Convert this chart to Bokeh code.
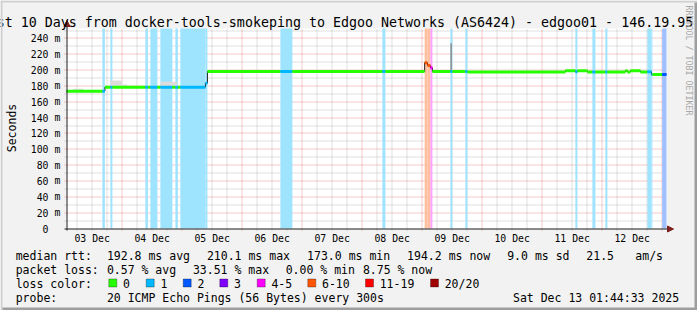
import math
from bokeh.plotting import figure
from bokeh.models import (Range1d, Label, LabelSet, BoxAnnotation,
                          Arrow, NormalHead, ColumnDataSource)
from bokeh.core.properties import value
from bokeh.embed import file_html
from bokeh.resources import INLINE

# ------------------------------------------------------------------ data
title_text = ("Last 10 Days from docker-tools-smokeping to Edgoo Networks "
              "(AS6424) - edgoo01 - 146.19.95.")
y_axis_title = "Seconds"
credit_text = "RRDTOOL / TOBI OETIKER"

# time axis: hours after 03 Dec 2025 00:00
range_start_h = 1.7425     # Dec 03 01:44:33
range_end_h = 241.7425     # Dec 13 01:44:33

day_labels = ["03 Dec", "04 Dec", "05 Dec", "06 Dec", "07 Dec",
              "08 Dec", "09 Dec", "10 Dec", "11 Dec", "12 Dec"]
day_label_h = [12, 36, 60, 84, 108, 132, 156, 180, 204, 228]
midnight_h = [24, 48, 72, 96, 120, 144, 168, 192, 216, 240]
six_hour_h = [h for h in range(6, 242, 6) if h % 24 != 0]

y_ticks = [0, 20, 40, 60, 80, 100, 120, 140, 160, 180, 200, 220, 240]
y_tick_numbers = ["0", "20", "40", "60", "80", "100", "120", "140",
                  "160", "180", "200", "220", "240"]
y_tick_units = ["", "m", "m", "m", "m", "m", "m", "m", "m", "m", "m", "m", "m"]
y_minor = [10, 30, 50, 70, 90, 110, 130, 150, 170, 190, 210, 230, 250]
y_top = 252.6

# median rtt (ms) per time segment, with lost pings (of 20) in that segment
seg_start_h = [1.74, 16.1, 17.1, 19.3, 20.1, 33.3, 34.3, 35.3, 38.1, 39.3, 44.1,
               45.3, 46.3, 47.3, 57.3, 58.1, 87.3, 92.1, 128.1, 129.3, 145.0,
               146.1, 147.3, 148.1, 155.3, 156.1, 161.3, 162.1, 201.3, 205.3,
               206.1, 210.1, 212.1, 213.3, 217.3, 218.1, 225.3, 226.1, 227.3,
               231.3, 234.1, 235.7, 236.1, 240.0]
seg_end_h = [16.1, 17.1, 19.3, 20.1, 33.3, 34.3, 35.3, 38.1, 39.3, 44.1, 45.3,
             46.3, 47.3, 57.3, 58.1, 87.3, 92.1, 128.1, 129.3, 145.0, 146.1,
             147.3, 148.1, 155.3, 156.1, 161.3, 162.1, 201.3, 205.3, 206.1,
             210.1, 212.1, 213.3, 217.3, 218.1, 225.3, 226.1, 227.3, 231.3,
             234.1, 235.7, 236.1, 240.0, 241.74]
seg_median_ms = [173.5, 173.5, 178.5, 178.5, 178.5, 178.5, 178.5, 178.5, 178.5,
                 178.5, 178.5, 178.5, 178.5, 178.5, 183.5, 198.3, 198.3, 198.3,
                 198.3, 198.3, 209.5, 206.0, 203.0, 198.3, 198.3, 198.3, 198.3,
                 197.8, 199.3, 198.0, 199.3, 197.8, 197.8, 197.8, 197.8, 197.8,
                 199.3, 197.8, 199.3, 197.8, 198.0, 194.5, 194.5, 194.5]
seg_loss = [0, 1, 0, 1, 0, 1, 0, 1, 0, 1, 0, 1, 0, 1, 1, 0, 1, 0, 1, 0, 8,
            8, 4, 0, 1, 0, 1, 0, 0, 1, 0, 0, 1, 0, 1, 0, 0, 0, 0, 0, 1, 1,
            0, 2]

# smoke (spread of the individual pings)
smoke_start_h = [4.5, 19.3, 24.0, 39.3, 152.1, 155.3]
smoke_end_h = [8.5, 24.0, 26.0, 46.0, 153.3, 155.9]
smoke_lo_ms = [174.5, 178.5, 178.5, 178.5, 198.3, 198.3]
smoke_hi_ms = [176.5, 187.0, 182.0, 185.5, 200.0, 234.0]
smoke_spread = [1, 1, 1, 1, 1, 3]

# loss colour classes
loss_labels = ["0", "1", "2", "3", "4-5", "6-10", "11-19", "20/20"]
loss_upper = [0, 1, 2, 3, 5, 10, 19, 20]
loss_colors = ["#26ff00", "#00b8ff", "#0059ff", "#7e00ff",
               "#ff00ff", "#ff5500", "#ff0000", "#a10000"]

# statistics
rtt_avg, rtt_max, rtt_min, rtt_now, rtt_sd, am_s = 192.8, 210.1, 173.0, 194.2, 9.0, 21.5
loss_avg, loss_max, loss_min, loss_now = 0.57, 33.51, 0.00, 8.75
probe_text = "20 ICMP Echo Pings (56 Bytes) every 300s"
stamp_text = "Sat Dec 13 01:44:33 2025"

# ------------------------------------------------------------------ styles / layout
FONT = "DejaVu Sans Mono"
BACK = "#F2F2F2"
SHADE_A = "#CFCFCF"
SHADE_B = "#9E9E9E"
GRID = "#8F8F8F"
MGRID = "#DE4F4F"
ARROW = "#801F1F"
AXIS = "#1F1F1F"
W, H = 697, 310
CL, CR, CT, CB = 66, 666, 28, 228        # chart area in canvas px
px_per_h = (CR - CL) / (range_end_h - range_start_h)
ms_per_px = y_top / (CB - CT)
x_lo = range_start_h - CL / px_per_h
y_hi = CB * ms_per_px


def X(cx):          # canvas px -> screen units (frame == whole canvas)
    return cx


def Y(cy):
    return H - cy


def snap_h(h):      # place a 1px line on a pixel centre
    c = (h - x_lo) * px_per_h
    return x_lo + (math.floor(c) + 0.5) / px_per_h


def snap_ms(v):
    c = (y_hi - v) / ms_per_px
    return y_hi - (math.floor(c) + 0.5) * ms_per_px


def loss_class(n):
    for i, u in enumerate(loss_upper):
        if n <= u:
            return i
    return len(loss_upper) - 1


def blend(hexcol, a):
    r, g, b = (int(hexcol[i:i + 2], 16) for i in (1, 3, 5))
    f = lambda c: int(round(255 - a * (255 - c)))
    return "#%02x%02x%02x" % (f(r), f(g), f(b))


p = figure(width=W, height=H, output_backend="svg", toolbar_location=None,
           x_axis_location=None, y_axis_location=None,
           x_range=Range1d(x_lo, range_start_h + (W - CL) / px_per_h),
           y_range=Range1d(-(H - CB) * ms_per_px, y_hi),
           min_border=0)
p.grid.visible = False
p.background_fill_color = BACK
p.border_fill_color = BACK
p.outline_line_color = None

# white chart canvas
p.quad(left=range_start_h, right=range_end_h, bottom=0, top=y_top,
       fill_color="white", line_color=None)

tick_h = 2 / px_per_h
tick_ms = 2 * ms_per_px


def vgrid(hs, color, alpha):
    xs = [snap_h(h) for h in hs if range_start_h < h < range_end_h]
    p.segment(x0=xs, x1=xs, y0=[-tick_ms] * len(xs), y1=[y_top] * len(xs),
              line_color=color, line_alpha=alpha, line_dash="1 1", line_width=1)


def hgrid(vs, color, alpha):
    ys = [snap_ms(v) for v in vs if 0 < v < y_top]
    p.segment(x0=[range_start_h - tick_h] * len(ys), x1=[range_end_h] * len(ys),
              y0=ys, y1=ys, line_color=color, line_alpha=alpha, line_dash="1 1",
              line_width=1)


vgrid(six_hour_h, GRID, 0.55)
hgrid(y_minor, GRID, 0.55)
vgrid(midnight_h, MGRID, 0.6)
hgrid(y_ticks, MGRID, 0.6)

# loss background bands
band = [i for i, n in enumerate(seg_loss) if n > 0]
band_src = ColumnDataSource(dict(
    left=[seg_start_h[i] for i in band], right=[seg_end_h[i] for i in band],
    color=[blend(loss_colors[loss_class(seg_loss[i])], 0x60 / 255) for i in band]))
p.quad(left="left", right="right", bottom=0, top=y_top, fill_color="color",
       line_color=None, source=band_src)

# smoke
smoke_src = ColumnDataSource(dict(
    left=smoke_start_h, right=smoke_end_h, bottom=smoke_lo_ms, top=smoke_hi_ms,
    color=["#dcdcdc" if s == 1 else "#8c8c8c" for s in smoke_spread]))
p.quad(left="left", right="right", bottom="bottom", top="top",
       fill_color="color", line_color=None, source=smoke_src)

# thin dark median line
mx, my = [], []
for s, e, v in zip(seg_start_h, seg_end_h, seg_median_ms):
    mx += [s, e]
    my += [v, v]
p.line(mx, my, line_color="#202020", line_width=1)

# thick median coloured by loss
med_src = ColumnDataSource(dict(
    x0=seg_start_h, x1=seg_end_h, y=seg_median_ms,
    color=[loss_colors[loss_class(n)] for n in seg_loss]))
p.segment(x0="x0", x1="x1", y0="y", y1="y", line_color="color", line_width=3,
          source=med_src)

# axes with arrows
p.add_layout(Arrow(x_start=range_start_h - tick_h, y_start=snap_ms(0),
                   x_end=range_end_h + 7 / px_per_h, y_end=snap_ms(0),
                   line_color=AXIS, line_width=1,
                   end=NormalHead(size=6, fill_color=ARROW, line_color=ARROW)))
p.add_layout(Arrow(x_start=snap_h(range_start_h), y_start=-tick_ms,
                   x_end=snap_h(range_start_h), y_end=y_top + 8 * ms_per_px,
                   line_color=AXIS, line_width=1,
                   end=NormalHead(size=6, fill_color=ARROW, line_color=ARROW)))

# y tick labels
ylab_src = ColumnDataSource(dict(y=y_ticks, num=y_tick_numbers, unit=y_tick_units))
p.add_layout(LabelSet(x=X(48), y="y", text="num", x_units="screen", y_units="data",
                      source=ylab_src, text_align="right", text_baseline="middle",
                      text_font=value(FONT), text_font_size=value("9.8px"),
                      text_color="black"))
p.add_layout(LabelSet(x=X(54), y="y", text="unit", x_units="screen", y_units="data",
                      source=ylab_src, text_align="left", text_baseline="middle",
                      text_font=value(FONT), text_font_size=value("9.8px"),
                      text_color="black"))

# x tick labels
xlab_src = ColumnDataSource(dict(x=day_label_h, t=day_labels))
p.add_layout(LabelSet(x="x", y=Y(241), text="t", x_units="data", y_units="screen",
                      source=xlab_src, text_align="center", text_baseline="alphabetic",
                      text_font=value(FONT), text_font_size=value("9.8px"),
                      text_color="black"))


def label(text, cx, cy, size="11.5px", align="left", baseline="alphabetic",
          angle=0.0, color="black"):
    p.add_layout(Label(x=X(cx), y=Y(cy), x_units="screen", y_units="screen",
                       text=text, text_font=FONT, text_font_size=size,
                       text_align=align, text_baseline=baseline, angle=angle,
                       text_color=color))


def box(cx0, cy0, cx1, cy1, color, line=None):
    p.add_layout(BoxAnnotation(left=X(cx0), right=X(cx1), top=Y(cy0), bottom=Y(cy1),
                               left_units="screen", right_units="screen",
                               top_units="screen", bottom_units="screen",
                               fill_color=color, fill_alpha=1.0,
                               line_color=line, line_width=1, level="overlay"))


# title, axis title, credit
label(title_text, -19.8, 21.5, size="13.3px")
label(y_axis_title, 11, 127.5, align="center", baseline="middle", angle=math.pi / 2)
label(credit_text, 688.5, 5, size="8.3px", align="left", baseline="middle",
      angle=-math.pi / 2, color="#A8A8A8")

# legend rows
row_y = [255.3, 269.3, 283.3, 297.3]
label("median rtt:", 15.2, row_y[0])
rtt_items = ["%.1f ms avg" % rtt_avg, "%.1f ms max" % rtt_max, "%.1f ms min" % rtt_min,
             "%.1f ms now" % rtt_now, "%.1f ms sd" % rtt_sd, "%.1f" % am_s, "am/s"]
rtt_item_x = [106.4, 206.4, 306.6, 406.6, 506.7, 585.8, 634.8]
for t, x in zip(rtt_items, rtt_item_x):
    label(t, x, row_y[0])

label("packet loss:", 15.2, row_y[1])
loss_items = ["%.2f %% avg" % loss_avg, "%.2f %% max" % loss_max,
              "%.2f %% min" % loss_min, "%.2f %% now" % loss_now]
loss_item_x = [106.4, 192.4, 285.2, 362.4]
for t, x in zip(loss_items, loss_item_x):
    label(t, x, row_y[1])

label("loss color:", 15.2, row_y[2])
box_x = [108.3, 145.7, 182.7, 219.3, 256.7, 307.3, 365.0, 430.0]
for lab, col, bx in zip(loss_labels, loss_colors, box_x):
    box(bx, 278.5, bx + 8, 286.5, col, line="black")
    label(lab, bx + 14.2, row_y[2])

label("probe:", 15.2, row_y[3])
label(probe_text, 106.4, row_y[3])
label(stamp_text, 512.5, row_y[3])

# 3D frame shading
box(0, 0, 697, 2, SHADE_A)
box(0, 0, 2, 310, SHADE_A)
box(694, 2, 697, 310, SHADE_B)
box(2, 307, 697, 310, SHADE_B)

open("out.html", "w").write(file_html(p, INLINE))
